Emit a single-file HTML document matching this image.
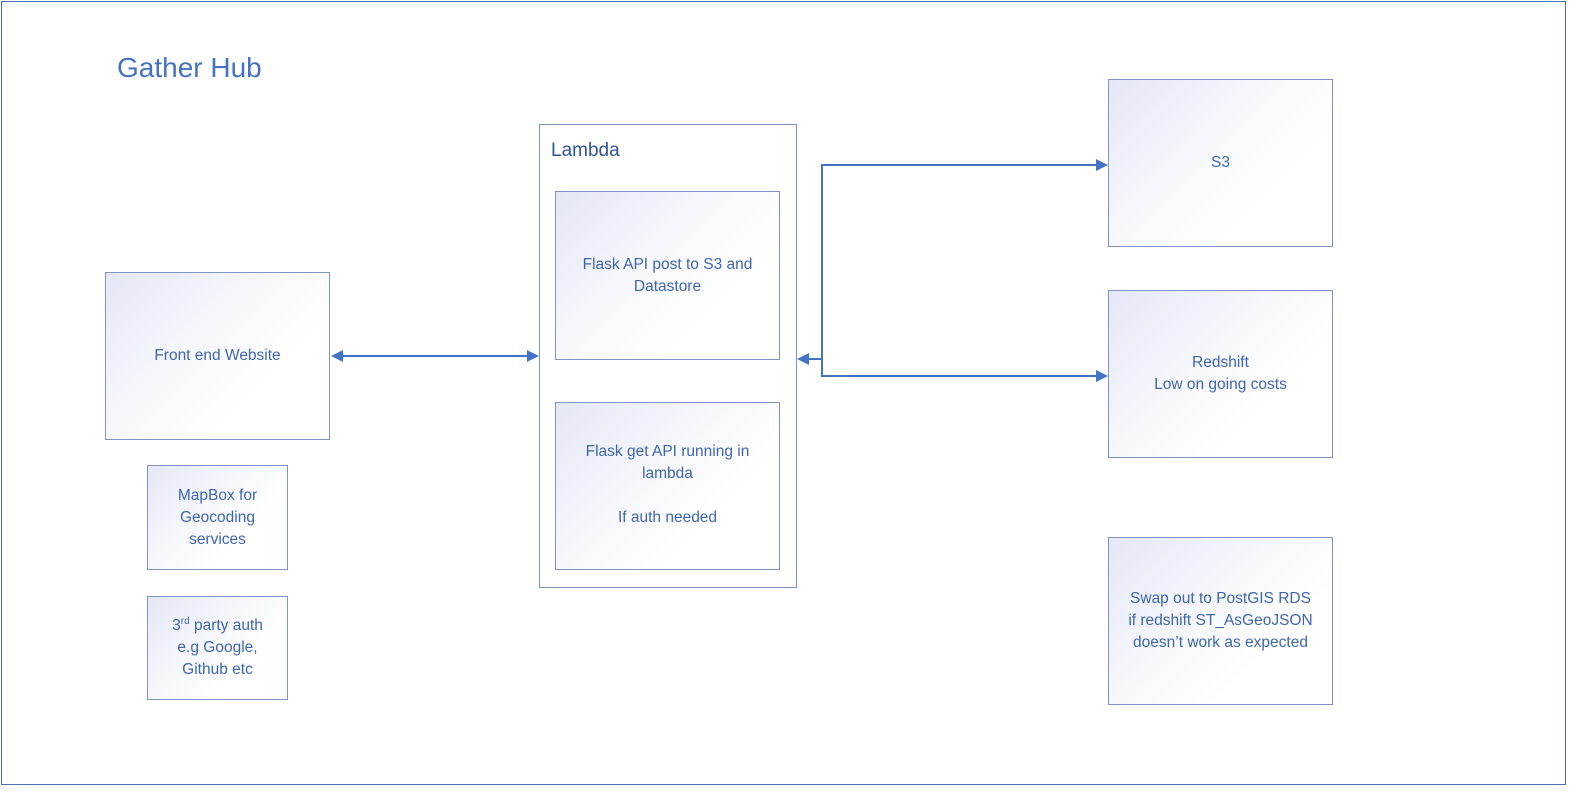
<!DOCTYPE html>
<html><head><style>
body{margin:0;width:1581px;height:793px;background:#fff;position:relative;overflow:hidden;font-family:"Liberation Sans",sans-serif;color:#3f66b0}
.b{position:absolute;box-sizing:border-box;border:1.3px solid #7f93c4;background:linear-gradient(135deg,#e4e8f5 0%,#f5f7fc 40%,#fff 70%);display:flex;align-items:center;justify-content:center;text-align:center;font-size:15.5px;line-height:22px}
</style></head><body>
<div style="position:absolute;left:1px;top:1px;width:1565px;height:784px;border:1px solid #4a6fb8;box-sizing:border-box"></div>
<div style="position:absolute;left:117px;top:52px;font-size:28px;color:#4472c4">Gather Hub</div>
<div style="position:absolute;left:539px;top:124px;width:258px;height:464px;border:1.3px solid #7f93c4;box-sizing:border-box"></div>
<div style="position:absolute;left:551px;top:140px;font-size:19px;color:#2f5597">Lambda</div>
<div class="b" style="left:105px;top:272px;width:225px;height:168px"><span>Front end Website</span></div>
<div class="b" style="left:555px;top:191px;width:225px;height:169px"><span>Flask API post to S3 and<br>Datastore</span></div>
<div class="b" style="left:555px;top:402px;width:225px;height:168px;align-items:flex-start;padding-top:38px"><span>Flask get API running in<br>lambda<br><br>If auth needed</span></div>
<div class="b" style="left:1108px;top:79px;width:225px;height:168px"><span>S3</span></div>
<div class="b" style="left:1108px;top:290px;width:225px;height:168px"><span>Redshift<br>Low on going costs</span></div>
<div class="b" style="left:1108px;top:537px;width:225px;height:168px"><span>Swap out to PostGIS RDS<br>if redshift ST_AsGeoJSON<br>doesn’t work as expected</span></div>
<div class="b" style="left:147px;top:465px;width:141px;height:105px"><span>MapBox for<br>Geocoding<br>services</span></div>
<div class="b" style="left:147px;top:596px;width:141px;height:104px"><span>3<sup style="font-size:10px;line-height:0">rd</sup> party auth<br>e.g Google,<br>Github etc</span></div>
<svg width="1581" height="793" style="position:absolute;left:0;top:0">
<g stroke="#4472c4" stroke-width="2" fill="none">
<line x1="340" y1="356" x2="529" y2="356"/>
<polyline points="1098,165 822,165 822,376 1098,376"/>
<line x1="822" y1="359" x2="807" y2="359"/>
</g>
<g fill="#4472c4">
<polygon points="331,356 343,350 343,362"/>
<polygon points="539,356 527,350 527,362"/>
<polygon points="1108,165 1096,159 1096,171"/>
<polygon points="1108,376 1096,370 1096,382"/>
<polygon points="797,359 809,353 809,365"/>
</g>
</svg>
</body></html>
